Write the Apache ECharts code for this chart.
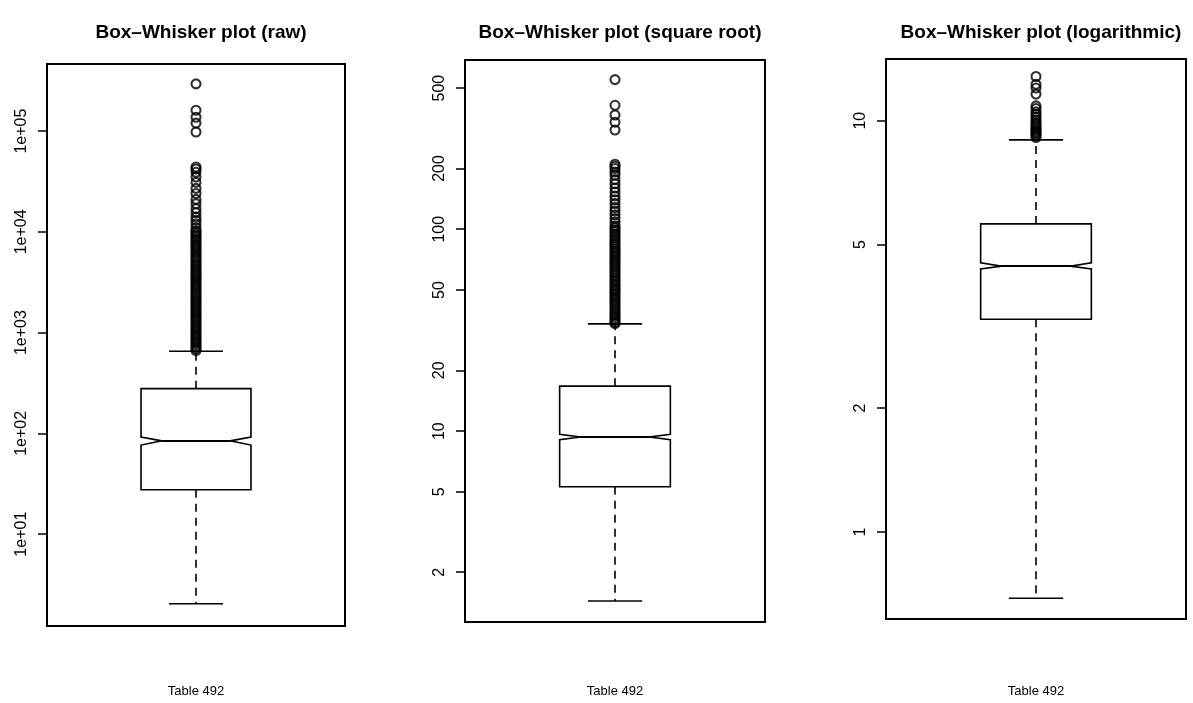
<!DOCTYPE html>
<html>
<head>
<meta charset="utf-8">
<script src="https://cdn.jsdelivr.net/npm/echarts@6/dist/echarts.min.js"></script>
<style>
  html, body { margin: 0; padding: 0; background: #fff; }
  #chart { width: 1193px; height: 703px; }
</style>
</head>
<body>
<div id="chart"></div>
<script>
// Panel titles and the caption under each panel
const titles = ['Box\u2013Whisker plot (raw)', 'Box\u2013Whisker plot (square root)', 'Box\u2013Whisker plot (logarithmic)'];
const caption = 'Table 492';

// Y tick values of each panel (all three axes are logarithmic)
const rawTicks = [10, 100, 1000, 10000, 100000];
const sqrtTicks = [2, 5, 10, 20, 50, 100, 200, 500];
const logTicks = [1, 2, 5, 10];

// Box statistics: [lower whisker, Q1, median, Q3, upper whisker, notch low, notch high]
const rawStats  = [2.04, 27.6, 84.3, 278, 653, 76.6, 91.9];
const sqrtStats = [1.44, 5.3, 9.35, 16.7, 34.0, 9.06, 9.65];
const logStats  = [0.69, 3.29, 4.43, 5.61, 8.98, 4.36, 4.51];

// Outlying observations above the upper whisker
const rawOutliers = [
  294000, 161000, 137000, 120000, 98000,
  44000, 42000, 39000, 35000, 31000, 27000, 24000, 21000, 19000, 17000,
  15500, 14000, 13000, 12000, 11000, 10200,
  10000, 9500, 9100, 8700, 8300, 7900, 7500, 7200, 6900, 6600, 6300, 6000,
  5700, 5450, 5200, 4950, 4700, 4500, 4300, 4100, 3900, 3750, 3600, 3450,
  3300, 3150, 3000, 2870, 2740, 2610, 2490, 2380, 2270, 2170, 2070, 1980,
  1890, 1800, 1720, 1640, 1570, 1500, 1430, 1370, 1310, 1250, 1190, 1140,
  1090, 1040, 995, 950, 910, 870, 830, 795, 760, 725, 695, 665
];
const sqrtOutliers = [
  551, 411, 368, 339, 310,
  210, 205, 200, 192, 185, 176, 168, 160, 153, 146, 140, 134, 128, 123,
  118, 113, 108.5, 104, 101.5, 99, 97, 94.5, 92.5, 90.5, 88, 86, 84, 82,
  80, 78, 76.5, 74.5, 73, 71, 69.5, 68, 66.5, 65, 63.5, 62, 60.5, 59,
  57.5, 56, 55, 53.5, 52.5, 51, 50, 49, 47.8, 46.7, 45.6, 44.5, 43.5,
  42.5, 41.5, 40.5, 39.6, 38.7, 37.8, 37, 36.1, 35.3, 34.5, 34.1
];
const logOutliers = [
  12.8, 12.25, 12.0, 11.6,
  10.86, 10.7, 10.5, 10.35, 10.2, 10.05, 9.9, 9.8, 9.7, 9.6, 9.5,
  9.42, 9.35, 9.28, 9.2, 9.1
];

// Layout of the three plotting regions
const panels = [
  { left: 47,  top: 64, width: 298, height: 565, min: 1.227, max: 463000, nameGap: 59,
    ticks: rawTicks, stats: rawStats, outliers: rawOutliers,
    fmt: v => '1e+' + String(Math.round(Math.log10(v))).padStart(2, '0') },
  { left: 465, top: 60, width: 300, height: 565, min: 1.134, max: 689, nameGap: 63,
    ticks: sqrtTicks, stats: sqrtStats, outliers: sqrtOutliers,
    fmt: v => String(v) },
  { left: 886, top: 59, width: 300, height: 563, min: 0.6145, max: 14.12, nameGap: 66,
    ticks: logTicks, stats: logStats, outliers: logOutliers,
    fmt: v => String(v) }
];

const FONT = '"Liberation Sans", Arial, Helvetica, sans-serif';
const BOX_HALF = 0.369;    // half box width, x units (x axis spans 0..2)
const NOTCH_HALF = 0.229;  // half width at the notch waist
const CAP_HALF = 0.181;    // half width of whisker caps

// Notched box with dashed whiskers and caps
function renderNotchedBox(params, api) {
  const x = api.value(0);
  const low = api.value(1), q1 = api.value(2), med = api.value(3), q3 = api.value(4),
        high = api.value(5), nlo = api.value(6), nhi = api.value(7);
  const p = (dx, v) => api.coord([x + dx, v]);
  const stroke = { stroke: '#000', lineWidth: 1.6, fill: null };
  const dashed = { stroke: '#000', lineWidth: 1.6, lineDash: [8, 6] };
  const poly = [
    p(-BOX_HALF, q1), p(-BOX_HALF, nlo), p(-NOTCH_HALF, med), p(-BOX_HALF, nhi), p(-BOX_HALF, q3),
    p(BOX_HALF, q3), p(BOX_HALF, nhi), p(NOTCH_HALF, med), p(BOX_HALF, nlo), p(BOX_HALF, q1)
  ];
  const seg = (a, b, style) => ({ type: 'line', shape: { x1: a[0], y1: a[1], x2: b[0], y2: b[1] }, style });
  return {
    type: 'group',
    children: [
      seg(p(0, q3), p(0, high), dashed),
      seg(p(0, q1), p(0, low), dashed),
      seg(p(-CAP_HALF, high), p(CAP_HALF, high), stroke),
      seg(p(-CAP_HALF, low), p(CAP_HALF, low), stroke),
      { type: 'polygon', shape: { points: poly }, style: { stroke: '#000', lineWidth: 1.6, fill: '#fff' } },
      seg(p(-NOTCH_HALF, med), p(NOTCH_HALF, med), { stroke: '#000', lineWidth: 2 })
    ]
  };
}

const grid = [], xAxis = [], yAxis = [], series = [], title = [];
panels.forEach((pn, i) => {
  grid.push({ left: pn.left, top: pn.top, width: pn.width, height: pn.height,
              show: true, borderColor: '#000', borderWidth: 2, backgroundColor: 'transparent' });
  xAxis.push({
    type: 'value', gridIndex: i, min: 0, max: 2,
    axisLine: { show: false }, axisTick: { show: false }, axisLabel: { show: false }, splitLine: { show: false },
    name: caption, nameLocation: 'middle', nameGap: pn.nameGap,
    nameTextStyle: { color: '#000', fontSize: 13, fontFamily: FONT }
  });
  yAxis.push({
    type: 'log', logBase: 10, gridIndex: i, min: pn.min, max: pn.max,
    axisLine: { show: false }, splitLine: { show: false },
    axisTick: { show: true, length: 9, lineStyle: { color: '#000', width: 1.5 }, customValues: pn.ticks },
    axisLabel: { customValues: pn.ticks, rotate: 90, margin: 17, color: '#000', fontSize: 16,
                 fontFamily: FONT, formatter: pn.fmt }
  });
  title.push({
    text: titles[i], left: pn.left + pn.width / 2, top: 18, textAlign: 'center',
    textStyle: { fontSize: 19, fontWeight: 'bold', color: '#000', fontFamily: FONT }
  });
  series.push({
    type: 'custom', xAxisIndex: i, yAxisIndex: i,
    renderItem: renderNotchedBox,
    encode: { x: 0, y: [1, 2, 3, 4, 5, 6, 7] },
    data: [[1].concat(pn.stats)],
    silent: true, z: 2
  });
  series.push({
    type: 'scatter', xAxisIndex: i, yAxisIndex: i,
    data: pn.outliers.map(v => [1, v]),
    symbol: 'circle', symbolSize: 9,
    itemStyle: { color: 'rgba(0,0,0,0)', borderColor: '#000', borderWidth: 2.1 },
    silent: true, z: 3
  });
});

const chart = echarts.init(document.getElementById('chart'), null, { renderer: 'canvas' });
chart.setOption({
  animation: false,
  backgroundColor: '#fff',
  title, grid, xAxis, yAxis, series
});
</script>
</body>
</html>
